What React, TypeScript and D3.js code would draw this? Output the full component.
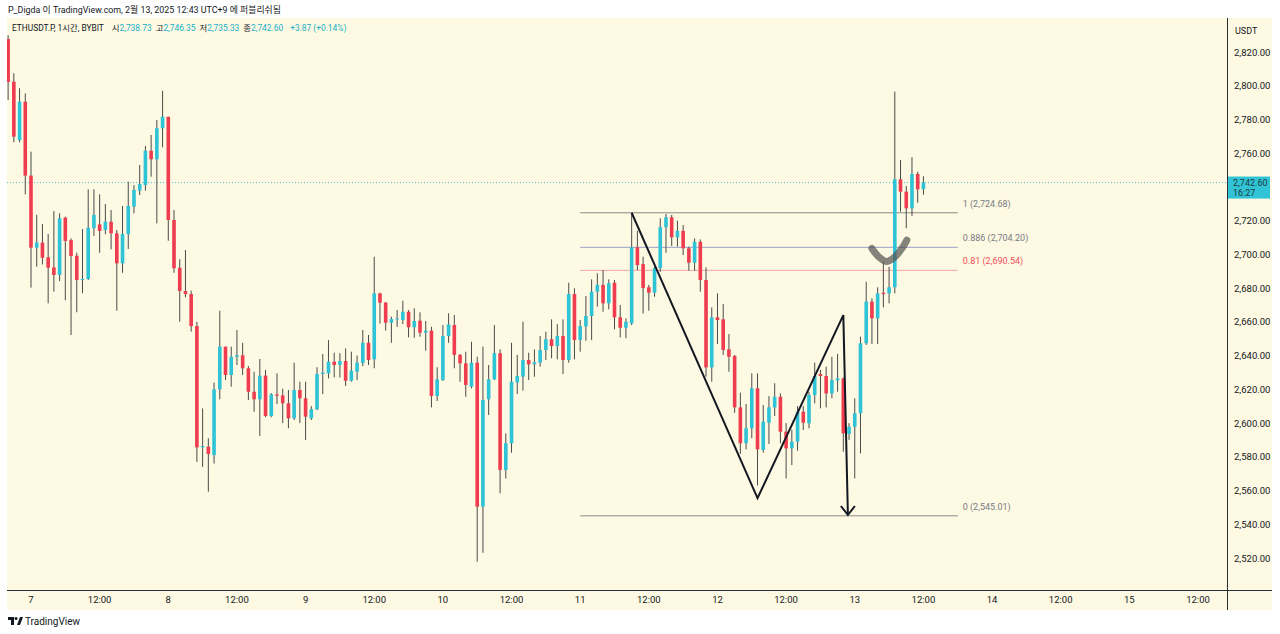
import React from "react";
import * as d3 from "d3";

// ---- data (1h candles, first candle = Feb 6 20:00, hour index relative to Feb 7 00:00) ----
const firstHour = -4;
const opens = [
  2827.7, 2802.4, 2767.8, 2790.5, 2746.7, 2704, 2707, 2698.3, 2692.3, 2687.8, 2721.8, 2708.5, 2699.2, 2684.8, 2685.4, 2715.5,
  2717.8, 2714.5, 2719.4, 2712.5, 2694.7, 2712, 2728.3, 2737.8, 2741.1, 2761.5, 2756.4, 2774.8, 2781.6, 2720.4, 2692.1, 2678.3,
  2676.5, 2657.5, 2585.6, 2586, 2581, 2620, 2645.3, 2628.5, 2639.3, 2640.2, 2632.5, 2618.6, 2614.1, 2628.1, 2604.2, 2617,
  2616.4, 2611.7, 2602.8, 2619.6, 2614.7, 2602.8, 2608.2, 2629.1, 2629.5, 2636.4, 2634.4, 2636.8, 2625.1, 2630.4, 2635.6, 2647.6,
  2637.8, 2676.9, 2671.4, 2659.5, 2661.7, 2661.1, 2666, 2656.8, 2660.7, 2653.6, 2654.8, 2616, 2625.5, 2651.6, 2658.1, 2640.4,
  2635.4, 2621.6, 2635.8, 2550.4, 2614.1, 2625.9, 2641.4, 2572.2, 2588, 2624.1, 2627.5, 2637.4, 2634.8, 2635.8, 2643.3, 2649.7,
  2645.7, 2651.6, 2637.4, 2676.5, 2649.2, 2657.3, 2663.5, 2677.9, 2681.9, 2671, 2683.2, 2662.7, 2656.5, 2659.1, 2704.2, 2694.3,
  2680.5, 2677.3, 2691.8, 2716.1, 2722, 2710.1, 2714, 2703.6, 2695.1, 2707.5, 2684.8, 2633, 2662.7, 2661.5, 2643.7, 2639.8,
  2609.3, 2588, 2596.9, 2620.6, 2584, 2600.2, 2609.3, 2615.6, 2594.9, 2585, 2589, 2606.7, 2599.8, 2616.6, 2629.1, 2627.9,
  2617.6, 2625.3, 2626.5, 2593.5, 2597.8, 2605.8, 2647.3, 2672, 2662.1, 2677.3, 2676.9, 2680.5, 2744.5, 2737.2, 2727.3, 2747.7,
  2738.73,
];
const highs = [
  2830, 2807.4, 2798.5, 2795.5, 2760.9, 2723.4, 2718, 2712.1, 2725.7, 2724.4, 2722.4, 2709.5, 2701, 2715, 2738.6, 2738.6,
  2735.6, 2729.9, 2726.3, 2714.5, 2728.7, 2743.1, 2741.1, 2753, 2764.3, 2770.8, 2779.7, 2797, 2781.6, 2726.3, 2697.1, 2702.6,
  2678.5, 2660, 2608.7, 2591, 2624, 2666.6, 2645.3, 2645.3, 2655.2, 2647.6, 2633.8, 2630.4, 2638, 2631.5, 2617.8, 2629.5,
  2620.4, 2619.6, 2635.8, 2624.5, 2624.5, 2610, 2633.1, 2641, 2649.2, 2641.7, 2641.5, 2644.3, 2642.3, 2640, 2655.2, 2652.2,
  2698.6, 2677.3, 2671.8, 2663.1, 2667, 2672.5, 2667, 2668, 2665.7, 2660.5, 2657.1, 2633.1, 2658.1, 2665.1, 2664.1, 2641,
  2642.3, 2648.2, 2639.3, 2645.3, 2634.4, 2658.1, 2643.7, 2593.9, 2647.6, 2640.4, 2660.1, 2641.7, 2643.7, 2651.6, 2654.2, 2661.5,
  2658.7, 2661.5, 2683.2, 2679.9, 2661.1, 2675.3, 2685.2, 2688.8, 2690.7, 2685.2, 2684.8, 2670, 2662.1, 2724.68, 2714, 2698.6,
  2681.9, 2692.7, 2721.4, 2724, 2723.4, 2720, 2717.4, 2704.6, 2709.5, 2708.9, 2692.3, 2668.6, 2676.9, 2670.6, 2652.8, 2640.4,
  2618, 2611.3, 2629.5, 2629.5, 2610.7, 2616, 2623.6, 2617.6, 2600, 2596, 2610.1, 2610.1, 2618.6, 2635.8, 2631.5, 2633.4,
  2639.3, 2641, 2627, 2600, 2614.7, 2651.2, 2683.8, 2674, 2680.5, 2695.7, 2692.7, 2796.5, 2756, 2740.6, 2757.6, 2749,
  2746.35,
];
const lows = [
  2791.5, 2766.5, 2766.5, 2735.6, 2680.3, 2692.7, 2694, 2671, 2677.9, 2684.2, 2672.8, 2652.2, 2665.7, 2677, 2684.8, 2711,
  2701, 2711.9, 2703, 2666.6, 2689.1, 2703.2, 2724.4, 2735.2, 2737.8, 2746.1, 2718.4, 2763.5, 2708.1, 2689.1, 2660.1, 2674.6,
  2654.2, 2577, 2574, 2559.3, 2576, 2614.1, 2625.5, 2621.6, 2634.4, 2628.5, 2613.7, 2606.7, 2592.3, 2603.5, 2603.5, 2611.3,
  2600, 2596.9, 2601.8, 2600, 2590, 2601.8, 2607.7, 2617.2, 2626.5, 2627.1, 2627, 2622, 2624.5, 2625.5, 2633.8, 2634.4,
  2632.5, 2659, 2654.8, 2647.6, 2657, 2658.7, 2650.8, 2650.6, 2651.2, 2642.9, 2609.3, 2613.1, 2625, 2647.6, 2632.5, 2624.5,
  2615.6, 2620.6, 2517.8, 2523.1, 2604.8, 2625.5, 2558.4, 2567.2, 2582.4, 2617.2, 2619.2, 2625.5, 2627.5, 2633.4, 2637.4, 2638.4,
  2637.8, 2629.1, 2635.8, 2637.8, 2642.3, 2648.8, 2649.2, 2669, 2666, 2667.4, 2655.6, 2650.8, 2650.3, 2658.1, 2690.7, 2665,
  2666.6, 2674.9, 2689.7, 2701, 2705, 2704.6, 2699.6, 2690.3, 2690.3, 2677.9, 2627.5, 2624.5, 2646.9, 2640.4, 2630.4, 2606.1,
  2581.7, 2584.4, 2591, 2563, 2582.4, 2587.6, 2604.2, 2588, 2567.2, 2575.1, 2583.6, 2595.9, 2596.9, 2611.7, 2608.7, 2609.3,
  2614.7, 2618.6, 2583, 2590, 2567.2, 2582, 2646.3, 2646.9, 2646.9, 2668.6, 2671, 2676.9, 2725.3, 2715.5, 2722.8, 2730.6,
  2735.33,
];
const closes = [
  2802.2, 2769.8, 2790.5, 2746.7, 2704, 2707, 2698, 2692.1, 2687.8, 2721.4, 2708, 2699, 2684.8, 2685.4, 2715.8, 2723.4,
  2713.9, 2719.4, 2712.5, 2694.7, 2712.1, 2728.7, 2738.2, 2741.7, 2761.5, 2756.4, 2774.8, 2781.6, 2720.4, 2691.8, 2678.3, 2676.5,
  2657.5, 2585.6, 2586.4, 2581.7, 2620, 2645.3, 2628.5, 2639.3, 2640.2, 2632.5, 2618.6, 2614.1, 2628.1, 2604.2, 2617, 2616.2,
  2611.7, 2602.8, 2619.6, 2614.7, 2603.8, 2608.2, 2629.1, 2629.9, 2636.4, 2634.4, 2636.8, 2625.1, 2631, 2635.8, 2647.6, 2637.4,
  2676.9, 2671.4, 2659.5, 2661.7, 2662, 2666, 2656.8, 2660.5, 2653.6, 2654.8, 2616, 2625.9, 2651.6, 2658.5, 2640.4, 2635.4,
  2622.6, 2635.8, 2550.4, 2613.7, 2625.9, 2641.4, 2572.2, 2588, 2624.5, 2627.9, 2637.4, 2634.8, 2636, 2643.3, 2649.7, 2645.7,
  2651.6, 2637.4, 2676.5, 2649.2, 2657.5, 2663.5, 2677.9, 2681.9, 2671, 2682.9, 2662.7, 2656.5, 2660, 2704.2, 2693.7, 2680,
  2677.3, 2691.8, 2716.1, 2722, 2710.1, 2714, 2703.6, 2695.1, 2707.5, 2684.8, 2633, 2662.7, 2661.1, 2643.3, 2639.3, 2609.3,
  2588, 2596.9, 2620.6, 2584.4, 2600.8, 2609.3, 2615.6, 2594.9, 2585, 2589, 2606.7, 2600.2, 2616.6, 2627.9, 2627.9, 2617.6,
  2625.5, 2626.5, 2593.9, 2597.8, 2605.8, 2647.3, 2672, 2662.1, 2676.9, 2676.5, 2680.5, 2744.5, 2737.2, 2727.3, 2747.7, 2738.6,
  2742.6,
];

// 2,740 is hidden behind the last-price label in the reference
const priceTicks = [2520, 2540, 2560, 2580, 2600, 2620, 2640, 2660, 2680, 2700, 2720, 2760, 2780, 2800, 2820];
const timeTickHours = [0, 12, 24, 36, 48, 60, 72, 84, 96, 108, 120, 132, 144, 156, 168, 180, 192, 204];
const timeTickLabels = ["7", "12:00", "8", "12:00", "9", "12:00", "10", "12:00", "11", "12:00", "12", "12:00", "13", "12:00", "14", "12:00", "15", "12:00"];

const fibLevels = ["1", "0.886", "0.81", "0"];
const fibPrices = [2724.68, 2704.2, 2690.54, 2545.01];
const fibColors = ["#8a8a8a", "#9c9ecb", "#f5a3aa", "#8a8a8a"];
const fibTextColors = ["#787b86", "#787b86", "#f0505e", "#787b86"];
const fibStartHour = 96;
const fibEndHour = 162;

const pathHours = [105, 127, 142, 142.8];
const pathPrices = [2724.68, 2555.5, 2664, 2545.5];

const brushHours = [147.0, 148.2, 149.5, 151.0, 152.3, 153.1];
const brushPrices = [2703.5, 2698.5, 2695.8, 2698.5, 2703.8, 2708.5];

const lastPrice = 2742.6;
const header1 = "P_Digda 이 TradingView.com, 2월 13, 2025 12:43 UTC+9 에 퍼블리쉬됨";
const symbolText = "ETHUSDT.P, 1시간, BYBIT";
const ohlcLabels = ["시", "고", "저", "종"];
const ohlcValues = ["2,738.73", "2,746.35", "2,735.33", "2,742.60"];
const changeText = "+3.87 (+0.14%)";

const BG = "#fdf9e2";
const UP = "#2ec3d6";
const DOWN = "#ef3c4f";
const WICK = "#4b4b4b";
const TEXT = "#131722";
const FONT = "Roboto, 'Noto Sans CJK KR', sans-serif";

export default function App() {
  const left = 7, right = 1227, top = 18, bottom = 590, outerRight = 1272, outerBottom = 610;
  const x = d3.scaleLinear().domain([0, 204]).range([31, 1198]);
  const y = d3.scaleLinear().domain([2520, 2820]).range([558, 52]);
  const bw = 3.6;
  const fmt = d3.format(",.2f");

  const line = d3.line<[number, number]>().x((d) => x(d[0])).y((d) => y(d[1]));
  const pathPts: [number, number][] = pathHours.map((h, i) => [h, pathPrices[i]]);
  const brushPts: [number, number][] = brushHours.map((h, i) => [h, brushPrices[i]]);
  const brushLine = d3.line<[number, number]>().x((d) => x(d[0])).y((d) => y(d[1])).curve(d3.curveCatmullRom);

  const tipX = x(pathHours[3]);
  const tipY = y(pathPrices[3]);

  return (
    <svg width={1280} height={634} style={{ position: "absolute", left: 0, top: 0 }} fontFamily={FONT}>
      <rect x={0} y={0} width={1280} height={634} fill="#ffffff" />
      <rect x={left} y={top} width={outerRight - left} height={outerBottom - top} fill={BG} />
      <defs>
        <clipPath id="plot">
          <rect x={left} y={top} width={right - left} height={bottom - top} />
        </clipPath>
      </defs>

      <text x={8} y={13} fontSize={8.9} fill={TEXT}>{header1}</text>
      <text x={12} y={31} fontSize={8.4} fill={TEXT}>
        <tspan>{symbolText}</tspan>
        {ohlcLabels.map((l, i) => (
          <React.Fragment key={i}>
            <tspan dx={i === 0 ? 8 : 4} fill={TEXT}>{l}</tspan>
            <tspan fill="#22b0c8">{ohlcValues[i]}</tspan>
          </React.Fragment>
        ))}
        <tspan dx={7} fill="#22b0c8">{changeText}</tspan>
      </text>

      <g clipPath="url(#plot)">
        {/* last price dotted line */}
        <line x1={left} x2={right} y1={y(lastPrice)} y2={y(lastPrice)} stroke="#4cc3d3" strokeWidth={1} strokeDasharray="1 2" />

        {/* fib levels */}
        {fibPrices.map((p, i) => (
          <g key={i}>
            <line x1={x(fibStartHour)} x2={x(fibEndHour)} y1={y(p)} y2={y(p)} stroke={fibColors[i]} strokeWidth={1} />
            <text x={x(fibEndHour) + 5} y={y(p) - 6} fontSize={9} fill={fibTextColors[i]}>
              {`${fibLevels[i]} (${fmt(p)})`}
            </text>
          </g>
        ))}

        {/* candles */}
        {opens.map((o, i) => {
          const c = closes[i];
          const cx = x(firstHour + i);
          const up = c >= o;
          const yt = y(Math.max(o, c));
          const yb = y(Math.min(o, c));
          return (
            <g key={i}>
              <line x1={cx} x2={cx} y1={y(highs[i])} y2={y(lows[i])} stroke={WICK} strokeWidth={1} />
              <rect x={cx - bw / 2} y={yt} width={bw} height={Math.max(1, yb - yt)} fill={up ? UP : DOWN} />
            </g>
          );
        })}

        {/* drawings */}
        <path d={line(pathPts) || ""} fill="none" stroke="#131722" strokeWidth={2} strokeLinejoin="miter" />
        <path d={`M${tipX - 7},${tipY - 9} L${tipX},${tipY} L${tipX + 7},${tipY - 9}`} fill="none" stroke="#131722" strokeWidth={2} />
        <path d={brushLine(brushPts) || ""} fill="none" stroke="rgba(85,85,85,0.72)" strokeWidth={7} strokeLinecap="round" />
      </g>

      {/* axes borders */}
      <line x1={right + 0.5} x2={right + 0.5} y1={top} y2={outerBottom} stroke="#2a2e39" strokeWidth={1} />
      <line x1={left} x2={outerRight} y1={bottom + 0.5} y2={bottom + 0.5} stroke="#2a2e39" strokeWidth={1} />

      {/* price axis */}
      <text x={1235} y={34} fontSize={9} fill={TEXT}>USDT</text>
      {priceTicks.map((p) => (
        <text key={p} x={1234} y={y(p) + 3.5} fontSize={9.5} fill={TEXT}>{fmt(p)}</text>
      ))}
      <rect x={1228} y={y(lastPrice) - 6} width={42} height={22} fill="#31c4d6" />
      <text x={1233} y={y(lastPrice) + 3} fontSize={9} fill="#1d3c42">{fmt(lastPrice)}</text>
      <text x={1233} y={y(lastPrice) + 13} fontSize={9} fill="#1d3c42">16:27</text>

      {/* time axis */}
      {timeTickHours.map((h, i) => (
        <text key={i} x={x(h)} y={603} fontSize={9.5} fill={TEXT} textAnchor="middle">{timeTickLabels[i]}</text>
      ))}

      {/* footer logo */}
      <g fill={TEXT}>
        <path d="M8,617 h6 v8 h-3 v-5 h-3 z" />
        <circle cx={16} cy={618.5} r={1.5} />
        <path d="M17,625 l3,-8 h3 l-3,8 z" />
      </g>
      <text x={25} y={625} fontSize={10} fill={TEXT}>TradingView</text>
    </svg>
  );
}
